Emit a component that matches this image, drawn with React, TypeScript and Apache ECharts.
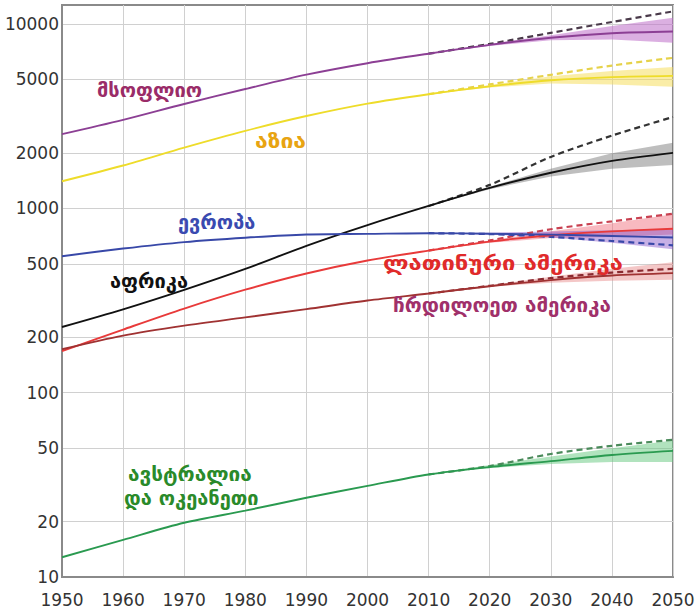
import React, { useEffect, useRef } from "react";
import * as echarts from "echarts";

// Years (x axis)
const years = [1950, 1960, 1970, 1980, 1990, 2000, 2010, 2020, 2030, 2040, 2050];
const projYears = [2010, 2020, 2030, 2040, 2050];
const yTickValues = [10, 20, 50, 100, 200, 500, 1000, 2000, 5000, 10000];

// Population (millions), median estimates/projection
const worldMedian = [2525, 3018, 3682, 4440, 5310, 6127, 6900, 7700, 8420, 8900, 9100];
const asiaMedian = [1403, 1708, 2135, 2632, 3167, 3698, 4160, 4590, 4950, 5150, 5230];
const europeMedian = [550, 605, 656, 693, 721, 727, 733, 728, 720, 708, 695];
const africaMedian = [227, 283, 361, 469, 626, 811, 1030, 1290, 1560, 1810, 2000];
const latamMedian = [168, 220, 286, 362, 443, 521, 590, 660, 715, 750, 775];
const namMedian = [172, 204, 231, 256, 284, 316, 345, 378, 408, 432, 445];
const oceaniaMedian = [12.8, 15.9, 19.7, 22.9, 26.9, 31.2, 36, 39.5, 42.5, 45.9, 48.3];

// Uncertainty bands (2010-2050)
const worldLow = [6900, 7600, 8150, 8250, 7900];
const worldHigh = [6900, 7800, 8700, 9750, 10800];
const asiaLow = [4160, 4520, 4750, 4700, 4560];
const asiaHigh = [4160, 4660, 5200, 5550, 5850];
const africaLow = [1030, 1270, 1490, 1640, 1720];
const africaHigh = [1030, 1310, 1640, 1990, 2270];
const latamLow = [590, 650, 690, 700, 720];
const latamHigh = [590, 670, 750, 830, 930];
const europeLow = [733, 720, 695, 650, 600];
const europeHigh = [733, 738, 748, 760, 770];
const namLow = [345, 375, 395, 405, 410];
const namHigh = [345, 382, 425, 470, 510];
const oceaniaLow = [36, 39, 41, 42, 42];
const oceaniaHigh = [36, 40.5, 45, 50, 55];

// Constant-fertility (dashed) projections (2010-2050)
const worldDashed = [6900, 7800, 8950, 10250, 11700];
const asiaDashed = [4160, 4700, 5300, 5950, 6550];
const africaDashed = [1030, 1340, 1900, 2480, 3130];
const latamDashed = [590, 670, 770, 850, 935];
const europeDashed = [733, 725, 700, 665, 630];
const namDashed = [345, 380, 418, 448, 470];
const oceaniaDashed = [36, 40, 46.5, 51.5, 55.5];

const labelWorld = "მსოფლიო";
const labelAsia = "აზია";
const labelEurope = "ევროპა";
const labelAfrica = "აფრიკა";
const labelLatam = "ლათინური ამერიკა";
const labelNam = "ჩრდილოეთ ამერიკა";
const labelOceania1 = "ავსტრალია";
const labelOceania2 = "და ოკეანეთი";

const lg = (v: number) => Math.log10(v);

function region(
  median: number[],
  low: number[],
  high: number[],
  dashed: number[],
  lineColor: string,
  bandColor: string,
  dashColor: string
): any[] {
  return [
    {
      type: "custom",
      silent: true,
      z: 1,
      data: projYears.map((y, i) => [y, lg(low[i]), lg(high[i])]),
      encode: { x: 0, y: [1, 2] },
      renderItem: (params: any, api: any) => {
        if (params.dataIndex !== 0) return null;
        const upper = projYears.map((y, i) => api.coord([y, lg(high[i])]));
        const lower = projYears.map((y, i) => api.coord([y, lg(low[i])])).reverse();
        return {
          type: "polygon",
          shape: { points: upper.concat(lower) },
          style: { fill: bandColor },
        };
      },
    },
    {
      type: "line",
      data: projYears.map((y, i) => [y, lg(dashed[i])]),
      lineStyle: { type: [6, 4], width: 2.2, color: dashColor },
      symbol: "none",
      smooth: 0.3,
      z: 3,
    },
    {
      type: "line",
      data: years.map((y, i) => [y, lg(median[i])]),
      lineStyle: { width: 1.9, color: lineColor },
      symbol: "none",
      smooth: 0.3,
      z: 4,
    },
  ];
}

export default function App() {
  const ref = useRef<HTMLDivElement>(null);
  useEffect(() => {
    if (!ref.current) return;
    const chart = echarts.init(ref.current, undefined, { renderer: "svg" });
    const tickLogs = yTickValues.map(lg);
    const labelFont = 'bold 20px "DejaVu Sans", sans-serif';
    const txt = (text: string, x: number, y: number, fill: string, sx = 1) => ({
      type: "text",
      x,
      y,
      scaleX: sx,
      z: 100,
      style: { text, fill, font: labelFont, verticalAlign: "middle" },
    });
    chart.setOption({
      animation: false,
      backgroundColor: "#ffffff",
      grid: {
        left: 62,
        right: 25,
        top: 5,
        bottom: 39,
        show: true,
        borderColor: "#8a8a8a",
        borderWidth: 2,
      },
      xAxis: {
        type: "value",
        min: 1950,
        max: 2050,
        interval: 10,
        axisLine: { show: true, lineStyle: { color: "#8a8a8a", width: 2 } },
        axisTick: { show: false },
        axisLabel: {
          color: "#333",
          fontSize: 17,
          fontFamily: "DejaVu Sans",
          margin: 14,
          formatter: (v: number) => String(v),
        },
        splitLine: { show: true, lineStyle: { color: "#d0d0d0", width: 1 } },
      },
      yAxis: {
        type: "value",
        min: 1,
        max: 4.103,
        axisLine: { show: true, lineStyle: { color: "#8a8a8a", width: 2 } },
        axisTick: { show: false, customValues: tickLogs },
        axisLabel: {
          customValues: tickLogs,
          color: "#333",
          fontSize: 17,
          fontFamily: "DejaVu Sans",
          margin: 3,
          formatter: (v: number) => String(Math.round(Math.pow(10, v))),
        },
        splitLine: { show: true, lineStyle: { color: "#d0d0d0", width: 1 } },
      },
      series: [
        ...region(worldMedian, worldLow, worldHigh, worldDashed, "#8c3f94", "rgba(190,110,200,0.55)", "#4a3a4a"),
        ...region(asiaMedian, asiaLow, asiaHigh, asiaDashed, "#eedc2a", "rgba(245,220,80,0.5)", "#e6d24a"),
        ...region(africaMedian, africaLow, africaHigh, africaDashed, "#111111", "rgba(110,110,110,0.45)", "#333333"),
        ...region(latamMedian, latamLow, latamHigh, latamDashed, "#e83a3a", "rgba(240,100,115,0.45)", "#c84050"),
        ...region(europeMedian, europeLow, europeHigh, europeDashed, "#3848a8", "rgba(130,80,200,0.45)", "#3848a8"),
        ...region(namMedian, namLow, namHigh, namDashed, "#a03232", "rgba(230,130,130,0.45)", "#8a2a30"),
        ...region(oceaniaMedian, oceaniaLow, oceaniaHigh, oceaniaDashed, "#2a9a50", "rgba(100,200,125,0.5)", "#4a8a5a"),
      ],
      graphic: [
        txt(labelWorld, 97, 90, "#9a2c68"),
        txt(labelAsia, 255, 141, "#e8a412", 1.15),
        txt(labelEurope, 178, 222, "#3a4ab0"),
        txt(labelAfrica, 110, 281, "#111111"),
        txt(labelLatam, 383, 263, "#e02a2a", 1.19),
        txt(labelNam, 393, 305, "#a0306a", 1.03),
        txt(labelOceania1, 128, 474, "#2a8a2a", 1.04),
        txt(labelOceania2, 124, 498, "#2a8a2a"),
      ],
    });
    return () => chart.dispose();
  }, []);
  return (
    <div
      ref={ref}
      style={{ position: "fixed", left: 0, top: 0, width: 698, height: 616, background: "#fff" }}
    />
  );
}
